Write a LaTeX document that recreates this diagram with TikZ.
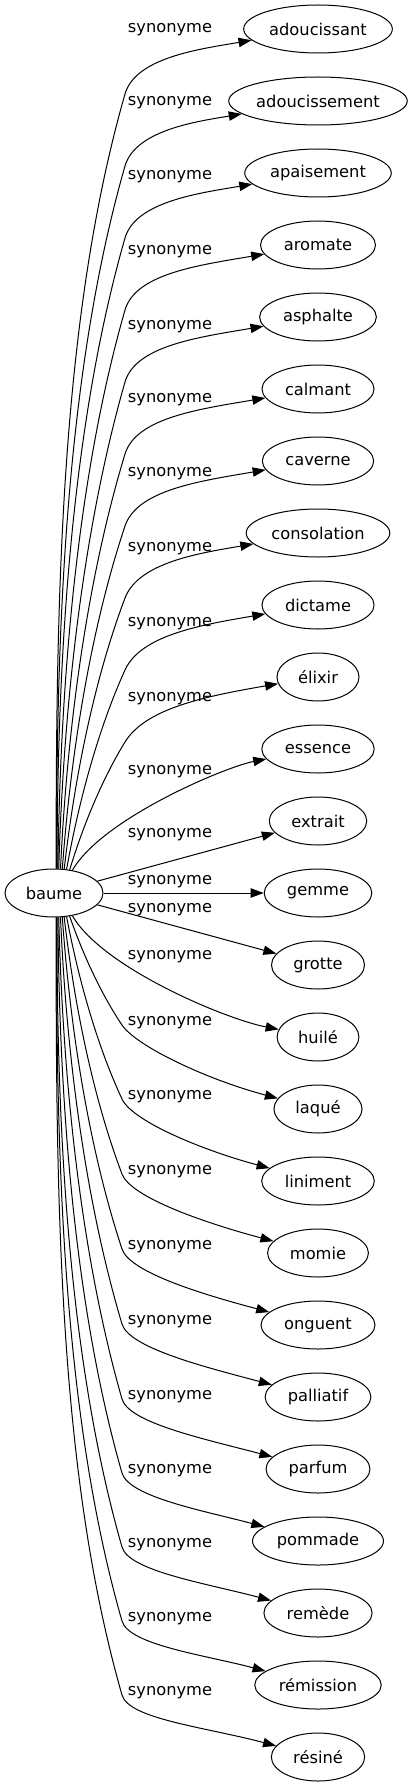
\documentclass[tikz,border=0pt]{standalone}
\usepackage{fontspec}
\setmainfont{DejaVu Sans}
\usetikzlibrary{arrows.meta,shapes.geometric}
\tikzset{
  wordnode/.style={draw, ellipse, inner sep=0pt, minimum height=36pt, line width=0.75pt},
  synlabel/.style={inner sep=0pt},
  synflow/.style={-{Triangle[length=9.75pt,width=7pt]}, line width=0.75pt}
}
\begin{document}
\fontsize{12.2}{14.6}\selectfont
\begin{tikzpicture}[x=0.75pt, y=-0.75pt]
\useasboundingbox (0,0) rectangle (415,1787);

\node[wordnode, minimum width=73.5pt] (baume) at (54,893) {baume};

% targets, one row each, label y given per edge
\foreach \nm/\lab/\ly [count=\i from 0] in {
  adoucissant/adoucissant/30, adoucissement/adoucissement/103,
  apaisement/apaisement/177, aromate/aromate/252, asphalte/asphalte/327,
  calmant/calmant/400, caverne/caverne/474, consolation/consolation/549,
  dictame/dictame/624, elixir/élixir/699, essence/essence/772,
  extrait/extrait/835, gemme/gemme/882, grotte/grotte/910,
  huile/huilé/957, laque/laqué/1023, liniment/liniment/1097,
  momie/momie/1172, onguent/onguent/1247, palliatif/palliatif/1322,
  parfum/parfum/1397, pommade/pommade/1471, remede/remède/1545,
  remission/rémission/1619, resine/résiné/1693}
{
  \pgfmathsetmacro\yt{29+72*\i}
  \pgfmathsetmacro\tw{1.154*width("\lab")+27}
  \node[wordnode, minimum width=\tw pt] (\nm) at (318,\yt) {\lab};
  \node[synlabel] (l\nm) at (170,\ly) {synonyme};
  % exit point on baume, knee, control points
  \pgfmathsetmacro\dy{893-\yt}
  \pgfmathsetmacro\ad{abs(\dy)}
  \pgfmathsetmacro\sg{\dy<0 ? -1 : 1}
  \pgfmathsetmacro\jj{12-\ad/72}
  \pgfmathsetmacro\ex{2+0.16*\jj*\jj}
  \pgfmathsetmacro\ey{24*sqrt(1-(\ex/49)^2)}
  \pgfmathsetmacro\sx{54+\ex}
  \pgfmathsetmacro\sy{893-\sg*\ey}
  \pgfmathsetmacro\sa{\sg*atan2(\ey,\ex)}
  \pgfmathsetmacro\kx{\sg>0 ? 125 : 122}
  \pgfmathsetmacro\ky{\sg>0 ? \yt+65 : \ly+2}
  \pgfmathsetmacro\chd{veclen(\kx-\sx,\ky-\sy)}
  \pgfmathsetmacro\cha{atan2(abs(\sy-\ky),\kx-\sx)}
  \pgfmathsetmacro\tho{min(90,\cha+6)}
  \pgfmathsetmacro\phk{min(74,\cha-8)}
  \pgfmathsetmacro\pax{\sx+0.35*\chd*cos(\tho)}
  \pgfmathsetmacro\pay{\sy-\sg*0.35*\chd*sin(\tho)}
  \pgfmathsetmacro\pbx{\kx-0.3*\chd*cos(\phk)}
  \pgfmathsetmacro\pby{\ky+\sg*0.3*\chd*sin(\phk)}
  \pgfmathsetmacro\ql{\sg>0 ? 38 : 25}
  \pgfmathsetmacro\qax{\kx+\ql*cos(\phk)}
  \pgfmathsetmacro\qay{\ky-\sg*\ql*sin(\phk)}
  \pgfmathsetmacro\qbx{\sg>0 ? 200 : 205}
  \pgfmathsetmacro\qby{\sg>0 ? \yt+20 : \yt-30}
  \ifdim\ad pt<100pt
    \draw[synflow] (baume) -- (\nm);
  \else\ifdim\ad pt<200pt
    \draw[synflow] (baume.\sa) .. controls (\sx+30,\sy-\sg*52) and (225,\yt+\sg*18) .. (\nm);
  \else
    \draw[synflow] (baume.\sa) .. controls (\pax,\pay) and (\pbx,\pby) .. (\kx,\ky)
      .. controls (\qax,\qay) and (\qbx,\qby) .. (\nm);
  \fi\fi
}

\end{tikzpicture}
\end{document}
